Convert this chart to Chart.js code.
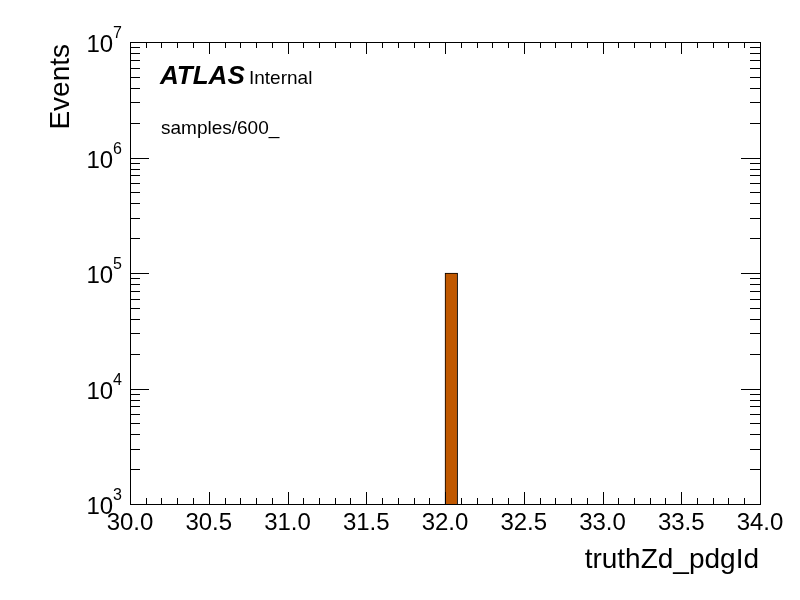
<!DOCTYPE html>
<html><head><meta charset="utf-8">
<script src="https://cdn.jsdelivr.net/npm/chart.js@4/dist/chart.umd.min.js"></script>
<style>html,body{margin:0;padding:0;background:#fff}#wrap{width:800px;height:600px}</style>
</head><body><div id="wrap"><canvas id="c" width="800" height="600"></canvas></div>
<script>
const binEdgesMin = 30.0;
const binEdgesMax = 34.0;
const nBins = 50;
const filledBinLow = [32.0];
const filledBinCounts = [100000];
const xTickLabels = ["30.0","30.5","31.0","31.5","32.0","32.5","33.0","33.5","34.0"];
const yDecades = [3,4,5,6,7];
const xTitle = "truthZd_pdgId";
const yTitle = "Events";

const binW = (binEdgesMax - binEdgesMin) / nBins;
const categories = [];
const counts = [];
for (let i = 0; i < nBins; i++) {
  const lo = binEdgesMin + i * binW;
  categories.push(lo.toFixed(2));
  let v = null;
  filledBinLow.forEach((b, k) => { if (Math.abs(b - lo) < 1e-6) v = filledBinCounts[k]; });
  counts.push(v);
}

const FONT = '"Liberation Sans", Arial, sans-serif';

const rootAxes = {
  id: 'rootAxes',
  afterDraw(chart) {
    const ctx = chart.ctx;
    const a = chart.chartArea;
    const xs = chart.scales.xl, ys = chart.scales.y;
    ctx.save();
    ctx.strokeStyle = '#000';
    ctx.lineWidth = 1;
    ctx.strokeRect(a.left + 0.5, a.top + 0.5, a.right - a.left, a.bottom - a.top);
    // x ticks
    ctx.beginPath();
    for (let i = 0; i <= 40; i++) {
      const v = binEdgesMin + i * 0.1;
      const px = Math.round(xs.getPixelForValue(v)) + 0.5;
      const len = (i % 5 === 0) ? 12 : 6;
      ctx.moveTo(px, a.bottom); ctx.lineTo(px, a.bottom - len);
      ctx.moveTo(px, a.top); ctx.lineTo(px, a.top + len);
    }
    // y ticks
    for (let d = yDecades[0]; d < yDecades[yDecades.length - 1]; d++) {
      for (let m = 1; m <= 9; m++) {
        const v = m * Math.pow(10, d);
        const py = Math.round(ys.getPixelForValue(v)) + 0.5;
        const len = m === 1 ? 19 : 10;
        ctx.moveTo(a.left, py); ctx.lineTo(a.left + len, py);
        ctx.moveTo(a.right, py); ctx.lineTo(a.right - len, py);
      }
    }
    ctx.stroke();
    // x labels
    ctx.fillStyle = '#000';
    ctx.font = '24px ' + FONT;
    ctx.textAlign = 'center';
    ctx.textBaseline = 'alphabetic';
    xTickLabels.forEach(t => {
      const px = xs.getPixelForValue(parseFloat(t));
      ctx.fillText(t, px, 530);
    });
    // y labels
    yDecades.forEach(d => {
      const py = ys.getPixelForValue(Math.pow(10, d));
      ctx.font = '16px ' + FONT;
      ctx.textAlign = 'left';
      const ew = ctx.measureText(String(d)).width;
      ctx.fillText(String(d), 122 - ew, py - 4);
      ctx.font = '24px ' + FONT;
      ctx.textAlign = 'right';
      ctx.fillText('10', 122 - ew, py + 10);
    });
    // titles
    ctx.font = '28px ' + FONT;
    ctx.textAlign = 'right';
    ctx.fillText(xTitle, 759, 568);
    ctx.save();
    ctx.translate(69, 44);
    ctx.rotate(-Math.PI / 2);
    ctx.textAlign = 'right';
    ctx.fillText(yTitle, 0, 0);
    ctx.restore();
    // labels
    ctx.textAlign = 'left';
    ctx.font = 'italic bold 26px ' + FONT;
    ctx.fillText('ATLAS', 160, 84);
    ctx.font = '19px ' + FONT;
    ctx.fillText('Internal', 249, 84);
    ctx.font = '19px ' + FONT;
    ctx.fillText('samples/600_', 161, 134);
    ctx.restore();
  }
};

new Chart(document.getElementById('c'), {
  type: 'bar',
  data: {
    labels: categories,
    datasets: [{
      data: counts,
      backgroundColor: 'rgb(192,88,0)',
      borderColor: '#000',
      borderWidth: 1,
      borderSkipped: 'bottom',
      categoryPercentage: 1.0,
      barPercentage: 1.0,
      xAxisID: 'x',
      yAxisID: 'y'
    }]
  },
  options: {
    responsive: false,
    animation: false,
    layout: { padding: { left: 130, right: 40, top: 42, bottom: 96 } },
    plugins: { legend: { display: false }, tooltip: { enabled: false } },
    scales: {
      x: { type: 'category', display: false, offset: true, grid: { display: false } },
      xl: { type: 'linear', display: false, offset: false, min: binEdgesMin, max: binEdgesMax },
      y: { type: 'logarithmic', display: false, min: 1e3, max: 1e7 }
    }
  },
  plugins: [rootAxes]
});
</script>
</body></html>
